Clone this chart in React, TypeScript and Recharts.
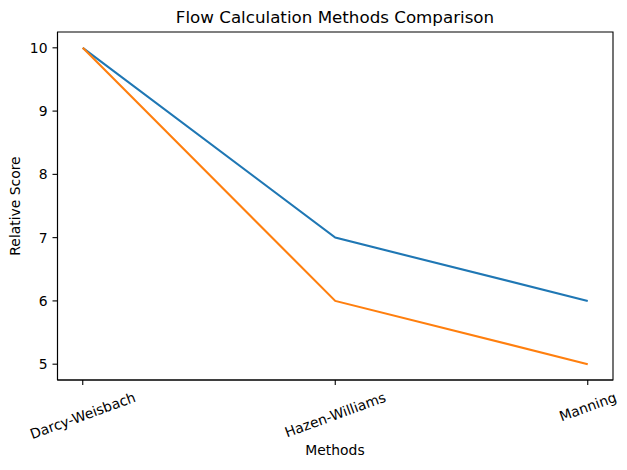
import React from 'react';
import { LineChart, Line, XAxis, YAxis, ReferenceArea } from 'recharts';

const categories = ['Darcy-Weisbach', 'Hazen-Williams', 'Manning'];
const seriesA = [10, 7, 6];
const seriesB = [10, 6, 5];
const yTicks = [5, 6, 7, 8, 9, 10];

const data = categories.map((name, i) => ({ idx: i, name, a: seriesA[i], b: seriesB[i] }));

const FONT = '"DejaVu Sans", sans-serif';
const TICK_FS = 13.9;

let measureCtx: CanvasRenderingContext2D | null = null;
function measure(text: string): number {
  if (!measureCtx) {
    const c = document.createElement('canvas');
    measureCtx = c.getContext('2d');
  }
  if (!measureCtx) return text.length * 8;
  measureCtx.font = `${TICK_FS}px "DejaVu Sans"`;
  return measureCtx.measureText(text).width;
}

const XTick = (props: any) => {
  const { x, y, payload } = props;
  const label = categories[payload.value] ?? '';
  const w = measure(label);
  const h = TICK_FS;
  const ang = (20 * Math.PI) / 180;
  const bh = w * Math.sin(ang) + h * Math.cos(ang);
  const cy = y + bh / 2;
  return (
    <text
      x={x}
      y={cy}
      textAnchor="middle"
      dominantBaseline="central"
      fontSize={TICK_FS}
      fontFamily={FONT}
      fill="#000"
      transform={`rotate(-20, ${x}, ${cy})`}
    >
      {label}
    </text>
  );
};

export default function App() {
  return (
    <div style={{ position: 'absolute', left: 0, top: 0, width: 627, height: 470, background: '#fff', fontFamily: FONT }}>
      <LineChart
        width={627}
        height={470}
        data={data}
        margin={{ top: 32, right: 14, bottom: 0, left: 0 }}
      >
        <XAxis
          dataKey="idx"
          type="number"
          domain={[-0.1, 2.1]}
          ticks={[0, 1, 2]}
          interval={0}
          allowDataOverflow
          height={90}
          tickSize={5}
          tickMargin={5}
          axisLine={{ stroke: '#000', strokeWidth: 1.1 }}
          tickLine={{ stroke: '#000', strokeWidth: 1.1 }}
          tick={<XTick />}
        />
        <YAxis
          type="number"
          domain={[4.75, 10.25]}
          ticks={yTicks}
          interval={0}
          allowDataOverflow
          width={57.5}
          tickSize={5}
          tickMargin={5}
          axisLine={{ stroke: '#000', strokeWidth: 1.1 }}
          tickLine={{ stroke: '#000', strokeWidth: 1.1 }}
          tick={{ fill: '#000', fontSize: TICK_FS, fontFamily: FONT }}
        />
        <ReferenceArea
          x1={-0.1}
          x2={2.1}
          y1={4.75}
          y2={10.25}
          fill="none"
          fillOpacity={0}
          stroke="#000"
          strokeWidth={1.1}
          ifOverflow="visible"
        />
        <Line
          type="linear"
          dataKey="a"
          name="Series A"
          stroke="#1f77b4"
          strokeWidth={2.1}
          dot={false}
          activeDot={false}
          isAnimationActive={false}
        />
        <Line
          type="linear"
          dataKey="b"
          name="Series B"
          stroke="#ff7f0e"
          strokeWidth={2.1}
          dot={false}
          activeDot={false}
          isAnimationActive={false}
        />
      </LineChart>
      <div
        style={{
          position: 'absolute',
          left: 0,
          width: 670,
          top: 7,
          textAlign: 'center',
          fontSize: 16.7,
          lineHeight: '20px',
          color: '#000',
        }}
      >
        Flow Calculation Methods Comparison
      </div>
      <div
        style={{
          position: 'absolute',
          left: 0,
          width: 670,
          top: 442,
          textAlign: 'center',
          fontSize: TICK_FS,
          lineHeight: '17px',
          color: '#000',
        }}
      >
        Methods
      </div>
      <div
        style={{
          position: 'absolute',
          left: 15 - 60,
          top: 206 - 9,
          width: 120,
          height: 18,
          lineHeight: '18px',
          textAlign: 'center',
          fontSize: TICK_FS,
          color: '#000',
          transform: 'rotate(-90deg)',
        }}
      >
        Relative Score
      </div>
    </div>
  );
}
